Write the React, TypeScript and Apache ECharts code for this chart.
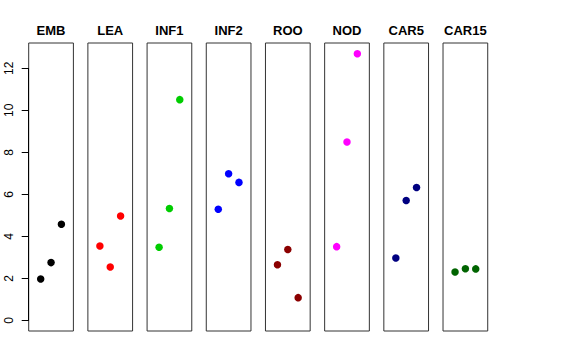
import React, { useEffect, useRef } from "react";
import * as echarts from "echarts";

const categories = ["EMB", "LEA", "INF1", "INF2", "ROO", "NOD", "CAR5", "CAR15"];
const embValues = [1.97, 2.75, 4.58];
const leaValues = [3.54, 2.54, 4.97];
const inf1Values = [3.48, 5.33, 10.51];
const inf2Values = [5.29, 6.98, 6.57];
const rooValues = [2.65, 3.37, 1.08];
const nodValues = [3.51, 8.49, 12.7];
const car5Values = [2.97, 5.71, 6.33];
const car15Values = [2.3, 2.46, 2.45];
const seriesValues = [embValues, leaValues, inf1Values, inf2Values, rooValues, nodValues, car5Values, car15Values];
const colors = ["#000000", "#FF0000", "#00CD00", "#0000FF", "#8B0000", "#FF00FF", "#000080", "#006400"];
const yTicks = [0, 2, 4, 6, 8, 10, 12];

const FONT = "'Liberation Sans', Arial, Helvetica, sans-serif";

export default function App() {
  const ref = useRef<HTMLDivElement>(null);
  useEffect(() => {
    if (!ref.current) return;
    document.body.style.margin = "0";
    const chart = echarts.init(ref.current, null, { renderer: "svg" });
    const left0 = 28.7;
    const pitch = 59.19;
    const pw = 44.7;
    const top = 43;
    const ph = 288;
    const yMin = -0.508;
    const yMax = 13.208;
    const pxPerUnit = ph / (yMax - yMin);
    const axisBottom = top + ph - (0 - yMin) * pxPerUnit;
    const axisTop = axisBottom - 12 * pxPerUnit;

    const grids: any[] = [];
    const xAxes: any[] = [];
    const yAxes: any[] = [];
    const series: any[] = [];
    const graphics: any[] = [];

    categories.forEach((cat, i) => {
      const left = left0 + i * pitch;
      grids.push({
        left,
        top,
        width: pw,
        height: ph,
        show: true,
        borderColor: "#333",
        borderWidth: 1,
        backgroundColor: "transparent",
      });
      xAxes.push({
        gridIndex: i,
        type: "value",
        min: -0.16,
        max: 4.16,
        show: false,
      });
      yAxes.push({
        gridIndex: i,
        type: "value",
        min: yMin,
        max: yMax,
        show: false,
      });
      series.push({
        type: "scatter",
        xAxisIndex: i,
        yAxisIndex: i,
        symbol: "circle",
        symbolSize: 7.5,
        itemStyle: { color: colors[i], opacity: 1 },
        data: seriesValues[i].map((v, j) => [j + 1, v]),
      });
      graphics.push({
        type: "text",
        x: left + pw / 2,
        y: 30.5,
        style: {
          text: cat,
          fill: "#000",
          font: `bold 13px ${FONT}`,
          textAlign: "center",
          textVerticalAlign: "middle",
        },
      });
    });

    // separate axis grid for the R-style y-axis (0..12)
    const ai = categories.length;
    grids.push({
      left: left0,
      top: axisTop,
      width: 10,
      height: axisBottom - axisTop,
      show: false,
    });
    xAxes.push({ gridIndex: ai, type: "value", show: false, min: 0, max: 1 });
    yAxes.push({
      gridIndex: ai,
      type: "value",
      min: yTicks[0],
      max: yTicks[yTicks.length - 1],
      interval: 2,
      position: "left",
      axisLine: { show: true, lineStyle: { color: "#000", width: 1 } },
      axisTick: { show: true, length: 7, lineStyle: { color: "#000", width: 1 } },
      splitLine: { show: false },
      axisLabel: {
        show: true,
        rotate: 90,
        margin: 14,
        color: "#000",
        fontSize: 12,
        fontFamily: FONT,
      },
    });

    chart.setOption({
      animation: false,
      backgroundColor: "#fff",
      grid: grids,
      xAxis: xAxes,
      yAxis: yAxes,
      series,
      graphic: graphics,
    });
    return () => chart.dispose();
  }, []);
  return <div ref={ref} style={{ width: 576, height: 360 }} />;
}
